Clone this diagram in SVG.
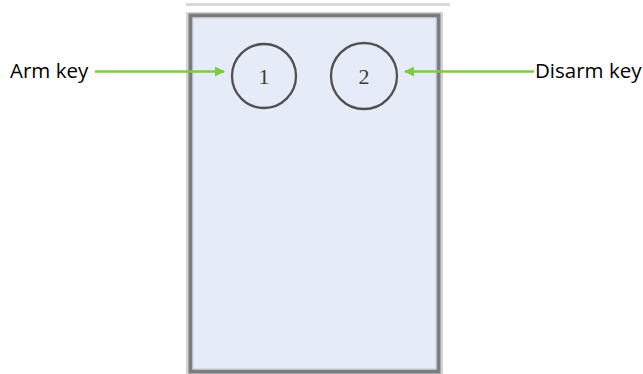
<svg xmlns="http://www.w3.org/2000/svg" width="643" height="374" viewBox="0 0 643 374">
<defs>
<style>
.lbl{font-family:"Open Sans","Liberation Sans",sans-serif;font-size:20.5px;fill:#000}
.key{fill:none;stroke:#505050;stroke-width:2.3}
.num{font-family:"Liberation Serif",serif;font-size:22px;fill:#3c3c3c;text-anchor:middle}
.arr{stroke:#7dcb45;stroke-width:2.5;fill:none}
</style>
<marker id="ah" markerWidth="10" markerHeight="10" refX="9" refY="5" orient="auto" markerUnits="userSpaceOnUse" viewBox="0 0 10 10">
<path d="M0,0 L10,5 L0,10 Z" fill="#7dcb45"/>
</marker>
</defs>
<rect width="643" height="374" fill="#fff"/>
<g id="panel">
<line x1="186" y1="4.5" x2="450" y2="4.5" stroke="#d9d9d9" stroke-width="3"/>
<rect x="186" y="12" width="257" height="363" fill="#d4d4d4"/>
<rect x="190.5" y="15.5" width="248" height="356" fill="#e6ecf7" stroke="#7b7d80" stroke-width="4"/>
<rect x="193" y="18" width="243" height="351" fill="none" stroke="#c8ccd4" stroke-width="1"/>
</g>
<g id="key1">
<circle class="key" cx="264" cy="76" r="32"/>
<text class="num" x="264" y="84">1</text>
</g>
<g id="key2">
<circle class="key" cx="364" cy="76" r="33"/>
<text class="num" x="364" y="84">2</text>
</g>
<g id="label-arm"><text class="lbl" x="10" y="78">Arm key</text></g>
<g id="label-disarm"><text class="lbl" x="535" y="78">Disarm key</text></g>
<g id="connectors">
<line class="arr" x1="95" y1="71.5" x2="224" y2="71.5" marker-end="url(#ah)"/>
<line class="arr" x1="534" y1="71.5" x2="405" y2="71.5" marker-end="url(#ah)"/>
</g>
</svg>
